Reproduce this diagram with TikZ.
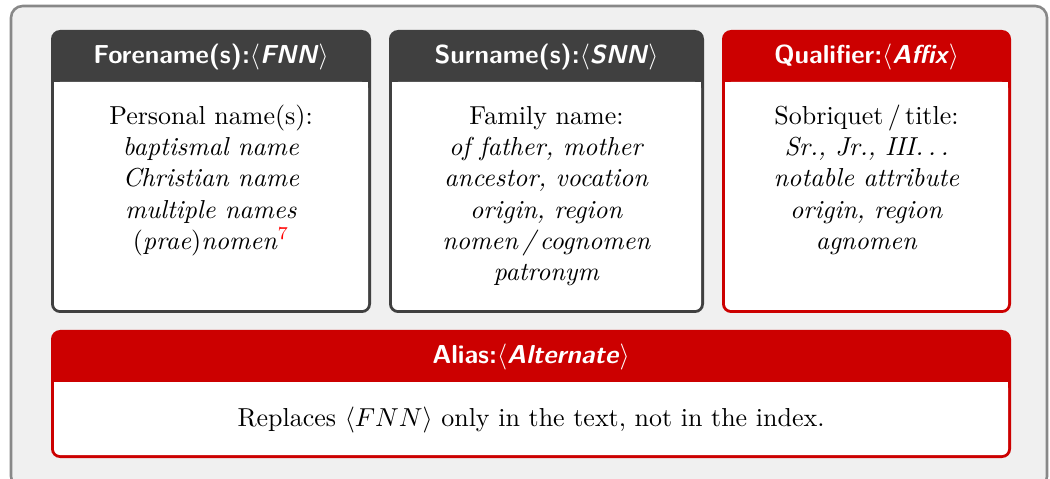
\documentclass[tikz,border=0pt]{standalone}
\usepackage{xcolor}
\definecolor{hdark}{HTML}{404040}
\definecolor{hred}{HTML}{CC0000}
\definecolor{bgouter}{HTML}{F0F0F0}
\definecolor{bordouter}{HTML}{888888}
\definecolor{fnred}{HTML}{FF0000}
\newcommand\namebox[5]{%
  \fill[#5, rounded corners=3.5pt] (#1,#2) rectangle (#3,#4);
  \fill[white, rounded corners=2.3pt] (#1+3,#2+52) rectangle (#3-3,#4-3);
  \fill[white] (#1+3,#2+52) rectangle (#3-3,#2+70);
}
\newcommand\spdots{.\kern\fontdimen3\font.\kern\fontdimen3\font.}
\begin{document}
\begin{tikzpicture}[x=0.385pt,y=-0.385pt,
  ttl/.style={text=white, font=\sffamily\bfseries, inner sep=0pt, anchor=base},
  bodytxt/.style={align=center, font=\fontsize{10}{12}\selectfont, inner sep=0pt, anchor=north},
  onetxt/.style={font=\fontsize{10}{12}\selectfont, inner sep=0pt, anchor=base},
]
\useasboundingbox (0,0) rectangle (1050,479);
\clip (0,0) rectangle (1050,479);
\draw[bordouter, fill=bgouter, line width=1pt, rounded corners=4.5pt] (11,6) rectangle (1047,488);

\namebox{51}{30}{371}{313}{hdark}
\namebox{389}{30}{704}{313}{hdark}
\namebox{722}{30}{1011}{313}{hred}
\namebox{51}{330}{1011}{458}{hred}

\node[ttl] (t1) at (211,64) {Forename(s):$\langle$\textit{FNN}$\rangle$};
\node[ttl] (t2) at (546.5,64) {Surname(s):$\langle$\textit{SNN}$\rangle$};
\node[ttl] (t3) at (866.5,64) {Qualifier:$\langle$\textit{Affix}$\rangle$};
\node[ttl] (t4) at (531,364) {Alias:$\langle$\textit{Alternate}$\rangle$};

\node[bodytxt] (b1) at (211,103.2) {\rule{0pt}{8pt}Personal name(s):\\
  \textit{baptismal name}\\
  \textit{Christian name}\\
  \textit{multiple names}\\
  (\textit{prae})\textit{nomen}\textsuperscript{\textcolor{fnred}{7}}};
\node[bodytxt] (b2) at (546.5,103.2) {\rule{0pt}{8pt}Family name:\\
  \textit{of father, mother}\\
  \textit{ancestor, vocation}\\
  \textit{origin, region}\\
  \textit{nomen\,/\,cognomen}\\
  \textit{patronym}};
\node[bodytxt] (b3) at (866.5,103.2) {\rule{0pt}{8pt}Sobriquet\,/\,title:\\
  \textit{Sr., Jr., III\spdots}\\
  \textit{notable attribute}\\
  \textit{origin, region}\\
  \textit{agnomen}};
\node[onetxt] (b4) at (531,426) {Replaces $\langle FNN\rangle$ only in the text, not in the index.};
\end{tikzpicture}
\end{document}
